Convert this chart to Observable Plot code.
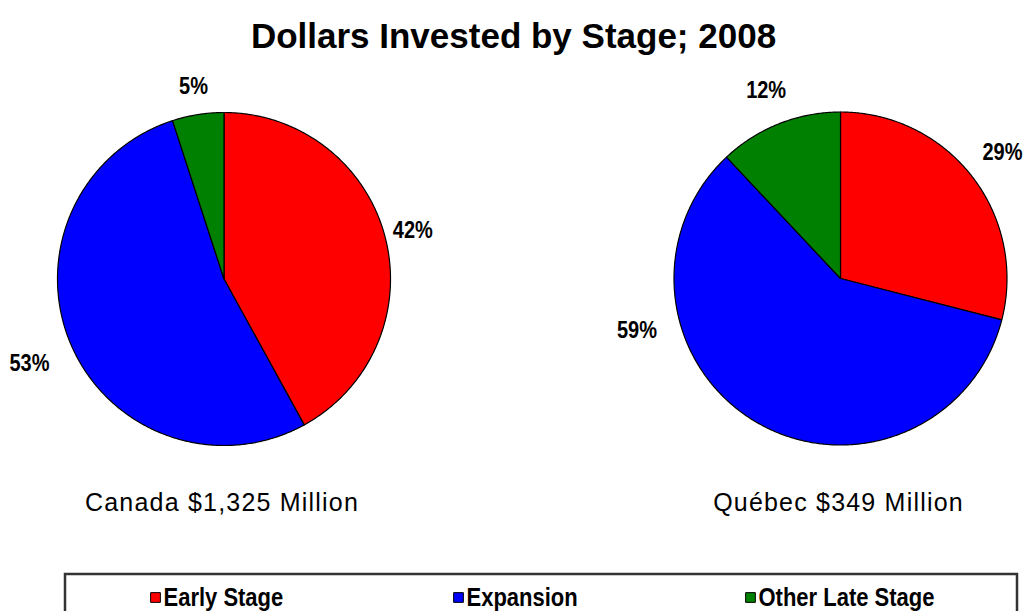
<!DOCTYPE html>
<html><head><meta charset="utf-8">
<script src="https://cdn.jsdelivr.net/npm/d3@7"></script>
<script src="https://cdn.jsdelivr.net/npm/@observablehq/plot@0.6"></script>
<style>html,body{margin:0;padding:0;background:#fff;} #chart svg{display:block}</style>
</head><body><div id="chart"></div>
<script>
// ---- data ----
const chartTitle = "Dollars Invested by Stage; 2008";
const stages = ["Early Stage", "Expansion", "Other Late Stage"];
const stageColors = ["#FF0000", "#0000FF", "#008000"];
const regions = ["Canada", "Québec"];
const regionCaptions = ["Canada $1,325 Million", "Québec $349 Million"];
const canadaShares = [42, 53, 5];
const quebecShares = [29, 59, 12];

// ---- layout ----
const W = 1028, H = 611;
const pieCenters = {"Canada": [223.5, 278.5], "Québec": [840, 278]};
const pieRadius = 166.5;
// label distance from pie centre, in stage order
const labelDist = {"Canada": [195, 212, 195], "Québec": [205, 210, 202]};
const labelAngleOverride = {"Québec|Expansion": 255.7};
const captionY = 502;
const legendBox = {x1: 65, x2: 1017, y1: 574, y2: 640};
const legendItemX = [155, 458, 750];
const legendY = 597;

const sans = "'Liberation Sans', Arial, sans-serif";

// ---- build slices ----
const sharesByRegion = {"Canada": canadaShares, "Québec": quebecShares};
const vertices = [];
const labels = [];
const pie = d3.pie().sort(null).value(d => d.share);
for (const region of regions) {
  const rows = stages.map((s, i) => ({region, stage: s, share: sharesByRegion[region][i], i}));
  const [cx, cy] = pieCenters[region];
  for (const a of pie(rows)) {
    const key = region + "|" + a.data.stage;
    const steps = Math.max(2, Math.ceil((a.endAngle - a.startAngle) / (Math.PI / 360)));
    vertices.push({key, stage: a.data.stage, x: cx, y: cy});
    for (let k = 0; k <= steps; k++) {
      const t = a.startAngle + (a.endAngle - a.startAngle) * k / steps;
      vertices.push({key, stage: a.data.stage, x: cx + pieRadius * Math.sin(t), y: cy - pieRadius * Math.cos(t)});
    }
    const ang = key in labelAngleOverride ? labelAngleOverride[key] * Math.PI / 180 : (a.startAngle + a.endAngle) / 2;
    const d = labelDist[region][a.data.i];
    labels.push({text: a.data.share + "%", x: cx + d * Math.sin(ang), y: cy - d * Math.cos(ang)});
  }
}
const captions = regions.map((r, i) => ({text: regionCaptions[i], x: pieCenters[r][0] - 2, y: captionY}));
const legendItems = stages.map((s, i) => ({stage: s, x: legendItemX[i], y: legendY}));

const chart = Plot.plot({
  width: W, height: H,
  margin: 0,
  x: {domain: [0, W], range: [0, W], axis: null},
  y: {domain: [0, H], range: [0, H], axis: null},
  color: {domain: stages, range: stageColors},
  style: {background: "#fff", overflow: "hidden"},
  marks: [
    Plot.text([chartTitle], {x: () => W / 2 - 1, y: () => 36, text: d => d, fontSize: 35, fontWeight: "bold", fontFamily: sans, fill: "#000", className: "title"}),
    Plot.line(vertices, {x: "x", y: "y", z: "key", fill: "stage", stroke: "#000", strokeWidth: 1.2, curve: "linear-closed"}),
    Plot.text(labels, {x: "x", y: "y", text: "text", fontSize: 20, fontWeight: "bold", fontFamily: sans, fill: "#000", className: "pct"}),
    Plot.text(captions, {x: "x", y: "y", text: "text", fontSize: 25, fontFamily: sans, fill: "#000", className: "caption"}),
    Plot.rect([legendBox], {x1: "x1", x2: "x2", y1: "y1", y2: "y2", fill: "#fff", stroke: "#333", strokeWidth: 2.5}),
    Plot.dot(legendItems, {x: "x", y: "y", symbol: "square", r: 5.5, fill: "stage", stroke: "#000", strokeWidth: 1}),
    Plot.text(legendItems, {x: d => d.x + 8, y: "y", text: "stage", textAnchor: "start", fontSize: 22, fontWeight: "bold", fontFamily: sans, fill: "#000", className: "legtext"})
  ]
});
// wider tracking for the region captions, as in the original
chart.querySelectorAll(".caption text").forEach(t => t.setAttribute("letter-spacing", "1.2"));
// taller glyphs for percentage and legend labels, as in the original rendering
chart.querySelectorAll(".pct text, .legtext text").forEach(t => {
  const tr = t.getAttribute("transform");
  if (tr) t.setAttribute("transform", tr + " scale(1,1.15)");
});
document.getElementById("chart").appendChild(chart);
</script>
</body></html>
